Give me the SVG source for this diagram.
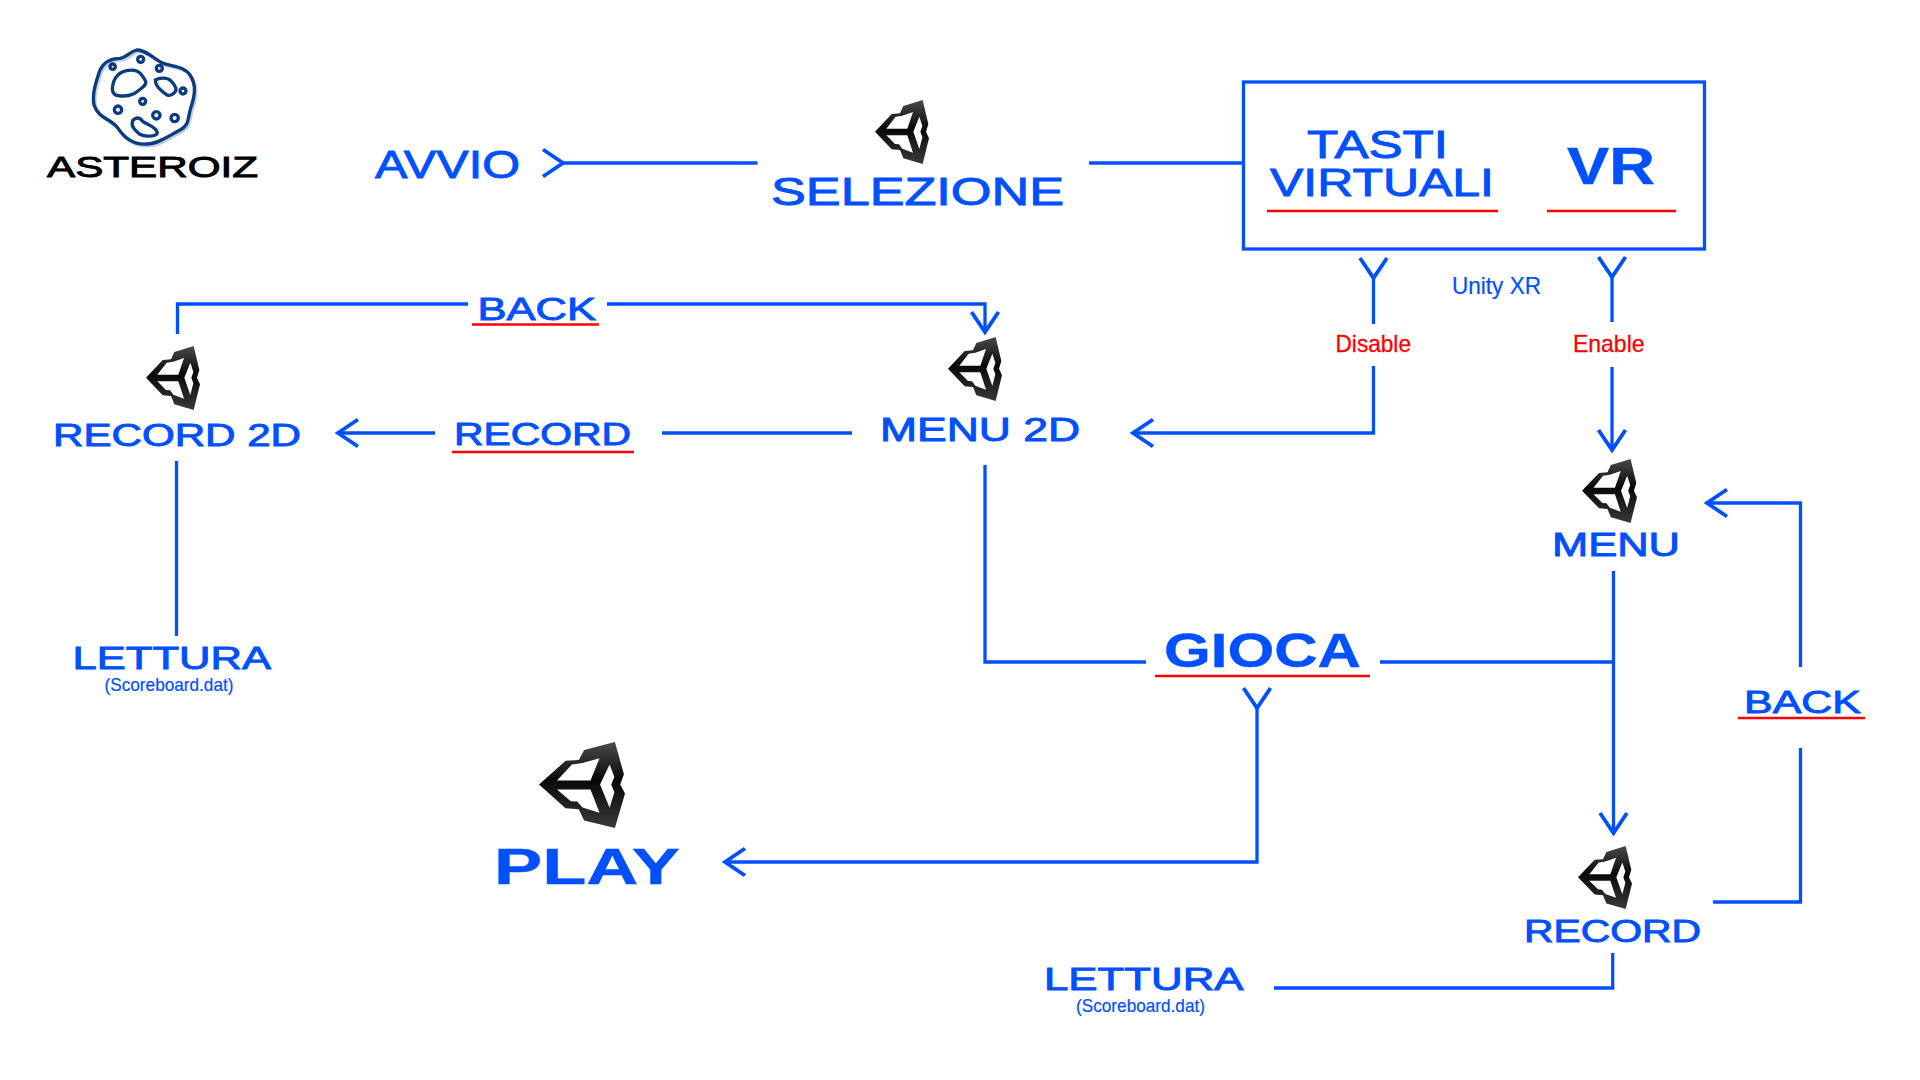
<svg xmlns="http://www.w3.org/2000/svg" xmlns:xlink="http://www.w3.org/1999/xlink" width="1920" height="1080" viewBox="0 0 1920 1080">
<style>
.l{fill:none;stroke:#0050ff;stroke-width:3.3}
.r{fill:none;stroke:#ff0000;stroke-width:2.5}
.a{marker-start:url(#v)}
.e{marker-end:url(#v)}
text{font-family:"Liberation Sans",Arial,sans-serif;fill:#0050ff;stroke:#0050ff;stroke-width:0.9}
.b{font-weight:bold;stroke-width:0.4}
.x{fill:#ff0000;stroke:#ff0000;stroke-width:0.3;font-size:24px}
.s,.u{stroke-width:0.2}
.s{font-size:19px}
.k{fill:#000;stroke:#000}
.ast{fill:none;stroke:#0c3c80;stroke-width:10}
.sh{fill:none;stroke:#c4cfe2;stroke-width:9}
</style>
<defs>
<linearGradient id="g" x1="0" y1="0" x2="0" y2="1">
<stop offset="0" stop-color="#4a4a4a"/><stop offset="0.45" stop-color="#080808"/><stop offset="1" stop-color="#3a3a3a"/>
</linearGradient>
<marker id="v" markerUnits="userSpaceOnUse" viewBox="-24 -17 28 34" refX="0" refY="0" markerWidth="28" markerHeight="34" orient="auto" overflow="visible">
<path d="M-20,-13.5 L0,0 L-20,13.5" fill="none" stroke="#0050ff" stroke-width="3.8"/>
</marker>
<symbol id="unity" viewBox="0 0 162 192" preserveAspectRatio="none">
<path fill="url(#g)" fill-rule="evenodd" d="M0,95 L50,42 L75,40 L85,18 L143,0 L160,72 L153,95 L162,115 L143,192 L85,175 L75,150 L50,148 Z M34,86 L97,86 L114,36 L82,47 L62,50 Z M133,50 L115,95 L133,147 L142,112 L136,95 L142,78 Z M34,106 L60,132 L72,133 L82,146 L114,158 L97,106 Z"/>
</symbol>
</defs>
<rect width="1920" height="1080" fill="#fff"/>
<g id="connectors">
<path class="l a" d="M563,163H757.5"/>
<path class="l" d="M1089,163H1243"/>
<path class="l a" d="M1373.5,278V324"/>
<path class="l e" d="M1373.5,366V433H1133"/>
<path class="l a" d="M1612,277V322"/>
<path class="l e" d="M1612,367V450"/>
<path class="l e" d="M1800.5,667V503H1707"/>
<path class="l" d="M1800.5,748V902H1713"/>
<path class="l e" d="M1613.5,571V833"/>
<path class="l" d="M1380,662H1613.5"/>
<path class="l" d="M985,465V662H1146"/>
<path class="l a e" d="M1257,708V862H725"/>
<path class="l" d="M1274,988H1612.7V953"/>
<path class="l" d="M177.5,334V304H468"/>
<path class="l e" d="M607,304H985V332"/>
<path class="l" d="M852,433H662"/>
<path class="l e" d="M435,433H338"/>
<path class="l" d="M176.5,461V636"/>
</g>
<g id="logo">
<g transform="translate(30,30) scale(0.3333)">
<path class="sh" transform="translate(5,6)" d="M320,60 C345,58 370,85 400,100 C430,110 465,110 480,135 C500,165 495,195 482,235 C472,270 478,285 450,300 C420,315 385,342 350,342 C310,345 280,320 262,292 C240,265 205,265 192,225 C185,190 200,150 210,120 C222,95 245,85 270,85 C290,82 300,65 320,60 Z"/>
<g class="ast">
<path d="M320,60 C345,58 370,85 400,100 C430,110 465,110 480,135 C500,165 495,195 482,235 C472,270 478,285 450,300 C420,315 385,342 350,342 C310,345 280,320 262,292 C240,265 205,265 192,225 C185,190 200,150 210,120 C222,95 245,85 270,85 C290,82 300,65 320,60 Z"/>
<path d="M290,122 C310,118 325,122 335,135 C350,155 352,160 338,172 C320,188 305,198 280,198 C255,198 247,192 247,175 C250,145 262,128 290,122 Z"/>
<path d="M376,150 C390,142 415,142 425,155 C437,168 442,178 435,186 C425,196 418,200 408,193 C392,180 375,168 376,150 Z"/>
<path d="M308,272 C318,260 330,262 338,274 C352,285 378,290 382,308 C380,320 345,322 328,312 C315,300 302,290 308,272 Z"/>
<circle cx="248" cy="110" r="8"/><circle cx="332" cy="88" r="9"/><circle cx="388" cy="115" r="9"/><circle cx="459" cy="183" r="9"/><circle cx="338" cy="214" r="9"/><circle cx="264" cy="239" r="11"/><circle cx="379" cy="256" r="11"/><circle cx="434" cy="264" r="11"/>
</g>
</g>
<text class="k" x="47" y="177" font-size="29" textLength="211" lengthAdjust="spacingAndGlyphs">ASTEROIZ</text>
</g>
<g id="avvio"><text x="375" y="178" font-size="38" textLength="145" lengthAdjust="spacingAndGlyphs">AVVIO</text></g>
<g id="selezione">
<use xlink:href="#unity" href="#unity" x="875" y="100" width="54" height="64"/>
<text x="771" y="205" font-size="39" textLength="293" lengthAdjust="spacingAndGlyphs">SELEZIONE</text>
</g>
<g id="input-box">
<rect class="l" x="1243.5" y="82" width="461" height="167"/>
<text x="1307" y="158" font-size="38" textLength="141" lengthAdjust="spacingAndGlyphs">TASTI</text>
<text x="1270" y="196" font-size="38" textLength="224" lengthAdjust="spacingAndGlyphs">VIRTUALI</text>
<path class="r" d="M1267,211H1498"/>
<text class="b" x="1567" y="184" font-size="51" textLength="88" lengthAdjust="spacingAndGlyphs">VR</text>
<path class="r" d="M1547,211H1676"/>
</g>
<g id="unity-xr"><text class="u" x="1452" y="294" font-size="24" textLength="89" lengthAdjust="spacingAndGlyphs">Unity XR</text></g>
<g id="disable"><text class="x" x="1335.5" y="352" textLength="75.5" lengthAdjust="spacingAndGlyphs">Disable</text></g>
<g id="enable"><text class="x" x="1573" y="352" textLength="71.5" lengthAdjust="spacingAndGlyphs">Enable</text></g>
<g id="menu">
<use xlink:href="#unity" href="#unity" x="1582" y="459" width="55" height="64"/>
<text x="1552" y="556" font-size="33" textLength="128" lengthAdjust="spacingAndGlyphs">MENU</text>
</g>
<g id="menu-2d">
<use xlink:href="#unity" href="#unity" x="948" y="337" width="54" height="64"/>
<text x="880" y="441" font-size="33" textLength="200" lengthAdjust="spacingAndGlyphs">MENU 2D</text>
</g>
<g id="record-2d">
<use xlink:href="#unity" href="#unity" x="146" y="346" width="54" height="64"/>
<text x="53" y="446" font-size="31" textLength="248" lengthAdjust="spacingAndGlyphs">RECORD 2D</text>
</g>
<g id="back-2d">
<text x="477.5" y="320" font-size="32" textLength="118.5" lengthAdjust="spacingAndGlyphs">BACK</text>
<path class="r" d="M472,324.5H599"/>
</g>
<g id="record-link">
<text x="454" y="445" font-size="31" textLength="177" lengthAdjust="spacingAndGlyphs">RECORD</text>
<path class="r" d="M452,452H634"/>
</g>
<g id="lettura-2d">
<text x="72.6" y="669" font-size="31" textLength="198.4" lengthAdjust="spacingAndGlyphs">LETTURA</text>
<text class="s" x="104.5" y="691" textLength="129" lengthAdjust="spacingAndGlyphs">(Scoreboard.dat)</text>
</g>
<g id="gioca">
<text class="b" x="1164" y="667" font-size="49" textLength="197" lengthAdjust="spacingAndGlyphs">GIOCA</text>
<path class="r" d="M1155,676H1370"/>
</g>
<g id="play">
<use xlink:href="#unity" href="#unity" x="539" y="742" width="86" height="86"/>
<text class="b" x="494" y="884" font-size="50" textLength="186" lengthAdjust="spacingAndGlyphs">PLAY</text>
</g>
<g id="back-vr">
<text x="1744" y="713" font-size="32" textLength="117" lengthAdjust="spacingAndGlyphs">BACK</text>
<path class="r" d="M1738,718H1865"/>
</g>
<g id="record">
<use xlink:href="#unity" href="#unity" x="1578" y="846" width="54" height="63"/>
<text x="1524" y="942" font-size="31" textLength="177" lengthAdjust="spacingAndGlyphs">RECORD</text>
</g>
<g id="lettura">
<text x="1044" y="990" font-size="31" textLength="199.6" lengthAdjust="spacingAndGlyphs">LETTURA</text>
<text class="s" x="1076" y="1012" textLength="129" lengthAdjust="spacingAndGlyphs">(Scoreboard.dat)</text>
</g>
</svg>
